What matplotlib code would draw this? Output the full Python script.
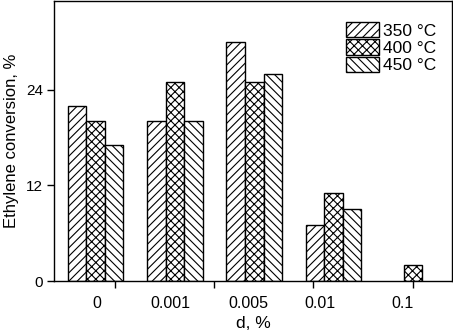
import matplotlib.pyplot as plt
import numpy as np

plt.rcParams['font.family'] = ['Liberation Sans', 'DejaVu Sans']
plt.rcParams['hatch.linewidth'] = 0.8

categories = ['0', '0.001', '0.005', '0.01', '0.1']
series = ['350 °C', '400 °C', '450 °C']
conv_350 = [22, 20, 30, 7, 0]
conv_400 = [20, 25, 25, 11, 2]
conv_450 = [17, 20, 26, 9, 0]
hatches = ['////', 'xxxx', '\\\\\\\\']


def draw():
    fig = plt.figure(figsize=(4.53, 3.35), dpi=100)
    ax = fig.add_axes([0.120, 0.161, 0.878, 0.836])
    x = np.arange(len(categories))
    w = 0.233
    for i, (vals, lab, h) in enumerate(zip([conv_350, conv_400, conv_450], series, hatches)):
        v = np.array(vals, dtype=float)
        v[v == 0] = np.nan  # no zero-height outline
        ax.bar(x + (i - 1) * w, v, w, color='white', edgecolor='black',
               linewidth=1.0, hatch=h, label=lab)

    ax.set_xlim(-0.516, 4.49)
    ax.set_ylim(0, 35.1)
    ax.set_yticks([0, 12, 24])
    # labels and tick marks do not line up in the original
    ax.set_xticks([0.02, 0.95, 1.92, 2.83, 3.86])
    ax.set_xticklabels(categories)
    ax.set_xticks([0.245, 1.495, 2.745, 3.995], minor=True)
    ax.tick_params(axis='x', which='major', length=0, pad=11, labelsize=11.5)
    ax.tick_params(axis='x', which='minor', length=5, width=1, direction='out')
    ax.tick_params(axis='y', length=5, width=1, direction='out', pad=3, labelsize=11)
    for s in ax.spines.values():
        s.set_linewidth(1.0)

    ax.set_xlabel('d, %', fontsize=12.5, labelpad=3)
    ax.set_ylabel('Ethylene conversion, %', fontsize=12, labelpad=5)

    ax.legend(loc='upper left', bbox_to_anchor=(0.733, 0.925), frameon=False,
              fontsize=12.5, handlelength=1.9, handleheight=0.97, labelspacing=0.05,
              handletextpad=0.25, borderpad=0, borderaxespad=0)

    fig.savefig('out.png', dpi=100)


if __name__ == '__main__':
    draw()
